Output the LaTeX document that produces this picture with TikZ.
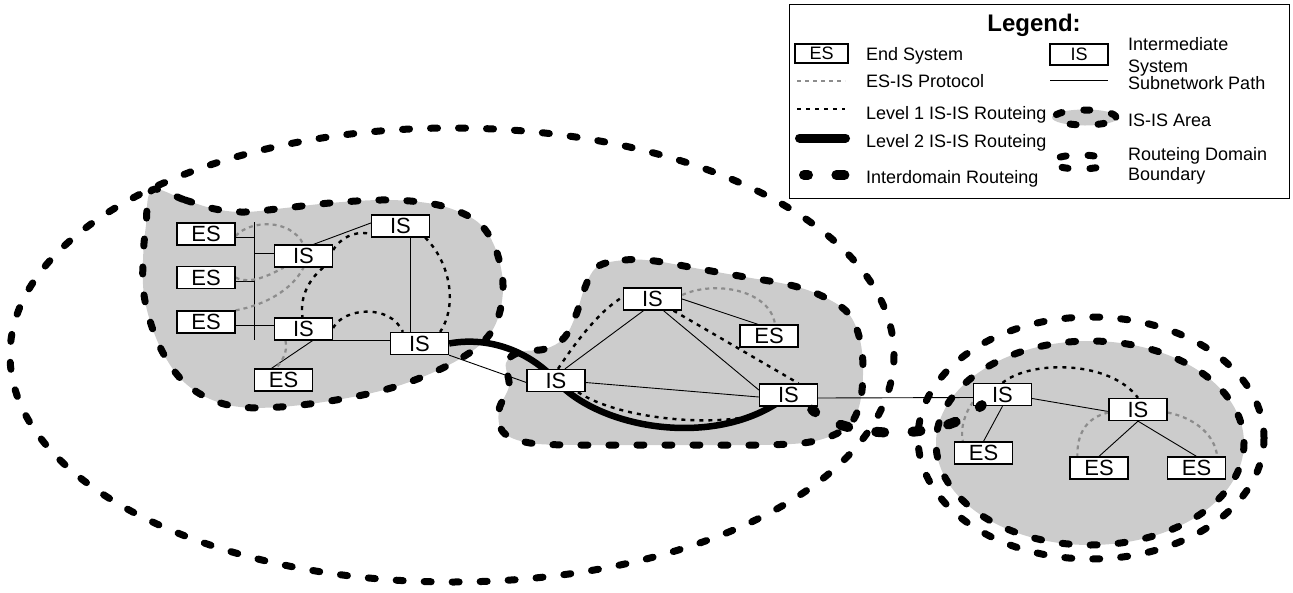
\documentclass[tikz,border=0pt]{standalone}
\usepackage{fontspec}
\setmainfont{Liberation Sans}
\usetikzlibrary{calc}
\pgfdeclarelayer{bg}
\pgfdeclarelayer{lines}
\pgfdeclarelayer{top}
\pgfsetlayers{bg,lines,main,top}
\definecolor{areagray}{HTML}{CCCCCC}
\definecolor{esisgray}{HTML}{8C8C8C}
\begin{document}
\begin{tikzpicture}[x=1pt,y=-1pt,
  box/.style={draw, fill=white, line width=1.3pt, minimum width=58pt, minimum height=22pt, inner sep=0pt, font=\fontsize{22}{22}\selectfont},
  lbox/.style={draw, fill=white, line width=1.2pt, inner sep=0pt, font=\fontsize{18}{18}\selectfont},
  subnet/.style={line width=0.9pt},
  esis/.style={draw=esisgray, line width=2.2pt, dash pattern=on 4pt off 4pt},
  lone/.style={line width=2.4pt, dash pattern=on 4pt off 5pt},
  ltwo/.style={line width=6.5pt},
  inter/.style={line width=10pt, line cap=round, dash pattern=on 8pt off 28.4pt, dash phase=4pt},
  border/.style={line width=7pt, line cap=round, dash pattern=on 7pt off 21pt},
  symborder/.style={line width=7pt, line cap=round, dash pattern=on 6pt off 22pt, dash phase=14pt},
  ltext/.style={anchor=base west, inner sep=0pt, font=\fontsize{18}{18}\selectfont},
]
\useasboundingbox (0,0) rectangle (1293,592);

% ---------- nodes ----------
\node[box] (es1) at (206,234) {ES};
\node[box] (es2) at (206,277.5) {ES};
\node[box] (es3) at (206,322) {ES};
\node[box] (isa) at (303.5,256) {IS};
\node[box] (isb) at (303.5,329) {IS};
\node[box] (isc) at (400.5,226) {IS};
\node[box] (isd) at (419.5,343.5) {IS};
\node[box] (es4) at (283.5,380) {ES};
\node[box] (ise) at (556,380.5) {IS};
\node[box] (isg) at (652.5,299) {IS};
\node[box] (esm) at (769,336) {ES};
\node[box] (isf) at (788.5,395) {IS};
\node[box] (ish) at (1002.5,394.5) {IS};
\node[box] (isi) at (1138,409.5) {IS};
\node[box] (esr1) at (983.5,453) {ES};
\node[box] (esr2) at (1099,468) {ES};
\node[box] (esr3) at (1196.5,468) {ES};

% ---------- areas ----------
\begin{pgfonlayer}{bg}
\def\leftblob{(152,190) (185,200) (215,209) (245,212) (285,208) (330,203) (380,200) (420,202) (452,209) (480,224) (496,250) (503,285) (498,318) (484,341) (458,360) (420,378) (380,391) (330,401) (280,407) (240,407) (210,399) (185,383) (167,360) (153,330) (144,295) (143,260) (146,225)}
\fill[areagray] plot[smooth cycle, tension=0.6] coordinates {\leftblob};
\draw[border] plot[smooth cycle, tension=0.6] coordinates {\leftblob};
\def\midblob{(597,267) (625,260) (655,261) (700,269) (745,277) (790,285) (822,296) (848,313) (860,340) (863,375) (858,410) (843,430) (810,442) (760,445) (700,445) (640,445) (580,445) (530,443) (503,432) (499,410) (509,386) (506,363) (520,352) (545,349) (564,338) (576,315) (584,290)}
\fill[areagray] plot[smooth cycle, tension=0.6] coordinates {\midblob};
\draw[border] plot[smooth cycle, tension=0.6] coordinates {\midblob};
\fill[areagray] (1090,443) ellipse [x radius=154, y radius=102];
\draw[border] (1090,443) ellipse [x radius=154, y radius=102];
\draw[border] (1091,438) ellipse [x radius=173, y radius=121];
\draw[border] (452,355) ellipse [x radius=442, y radius=227];
\end{pgfonlayer}

% ---------- connectors ----------
\begin{pgfonlayer}{lines}
% left area subnetwork
\coordinate (busT) at (254,222);
\coordinate (busB) at (254,340);
\draw[subnet] (busT) -- (busB);
\coordinate (e1) at ($(es1.east)+(0,3)$);
\coordinate (e2) at ($(es2.east)+(0,4)$);
\coordinate (e3) at ($(es3.east)+(0,3)$);
\coordinate (ia) at ($(isa.west)+(0,-3)$);
\coordinate (ib) at ($(isb.west)+(0,-4)$);
\draw[subnet] (e1) -- (e1 -| busT);
\draw[subnet] (e2) -- (e2 -| busT);
\draw[subnet] (e3) -- (e3 -| busT);
\draw[subnet] (ia) -- (ia -| busT);
\draw[subnet] (ib) -- (ib -| busT);
\draw[subnet] ($(isa.north)+(10,0)$) -- ($(isc.west)+(0,-3)$);
\draw[subnet] ($(isc.south)+(9.5,0)$) -- ($(isd.north)+(-9.5,0)$);
\draw[subnet] (isb.south east) -- (isb.south east -| isd.west);
\draw[subnet] ($(isb.south)+(9,0)$) -- ($(es4.north)+(-12,0)$);
\draw[subnet] (isd.south east) -- ($(ise.west)+(0,2)$);
% middle area subnetwork
\draw[subnet] ($(ise.north)+(9,0)$) -- ($(isg.south)+(-9,0)$);
\draw[subnet] ($(isg.south)+(11,0)$) -- ($(isf.west)+(0,-5)$);
\draw[subnet] (isg.east) -- ($(esm.north)+(-11,0)$);
\draw[subnet] ($(ise.east)+(0,2)$) -- ($(isf.west)+(0,2)$);
\draw[subnet] ($(isf.east)+(0,3)$) -- ($(ish.west)+(0,3)$);
% right area subnetwork
\draw[subnet] (ish.south) -- (esr1.north);
\draw[subnet] ($(ish.east)+(0,4)$) -- ($(isi.west)+(0,2)$);
\draw[subnet] (isi.south) -- (esr2.north);
\draw[subnet] (isi.south) -- (esr3.north);

% ES-IS protocol
\draw[esis] ($(es1.east)+(0,2)$) .. controls (250,220) and (290,218) .. (isa.north);
\draw[esis] (es2.east) .. controls (250,285) and (270,275) .. ($(isa.south)+(-20,0)$);
\draw[esis] (es3.north east) .. controls (265,305) and (292,290) .. (isa.south);
\draw[esis] ($(isb.south)+(-18,0)$) .. controls (288,352) and (282,362) .. ($(es4.north)+(-8,0)$);
\draw[esis] ($(isg.east)+(0,-4)$) .. controls (715,280) and (770,290) .. ($(esm.north)+(6,0)$);
\draw[esis] ($(ish.south west)+(0,-4)$) .. controls (965,413) and (960,428) .. ($(esr1.north west)+(9,0)$);
\draw[esis] ($(isi.west)+(0,3)$) .. controls (1085,418) and (1077,435) .. ($(esr2.north west)+(8,0)$);
\draw[esis] ($(isi.east)+(0,3)$) .. controls (1195,418) and (1215,435) .. ($(esr3.north east)+(-9,0)$);

% Level 1 IS-IS routeing
\draw[lone] ($(isa.east)+(0,-6)$) .. controls (343,234) and (363,228) .. ($(isc.south west)+(9,0)$);
\draw[lone] ($(isa.south east)+(-10,0)$) .. controls (306,282) and (300,300) .. ($(isb.north)+(-1,0)$);
\draw[lone] ($(isb.east)+(0,-1)$) .. controls (343,308) and (390,303) .. ($(isd.north west)+(13,0)$);
\draw[lone] ($(isc.south east)+(-5,0)$) .. controls (450,262) and (458,305) .. ($(isd.north east)+(-9,0)$);
\draw[lone] ($(ise.north)+(2,0)$) .. controls (575,343) and (600,310) .. ($(isg.west)+(0,-2)$);
\draw[lone] ($(isg.south)+(21,0)$) -- ($(isf.north)+(10,0)$);
\draw[lone] ($(ise.south)+(22,0)$) .. controls (620,420) and (720,428) .. ($(isf.south west)+(4,6)$);
\draw[lone] (ish.north) .. controls (1030,360) and (1110,360) .. (isi.north);

% Level 2 IS-IS routeing
\draw[ltwo] (isd.east) .. controls (490,336) and (530,352) .. (ise.center)
  .. controls (600,430) and (720,450) .. (isf.center);
\end{pgfonlayer}

% Interdomain routeing
\begin{pgfonlayer}{top}
\draw[inter] ($(isf.south east)+(-6,3)$) .. controls (846,440) and (945,442) .. ($(ish.south west)+(9,-1)$);
\end{pgfonlayer}

% ---------- legend ----------
\node[draw, fill=white, line width=1.3pt, minimum width=500pt, minimum height=194pt, inner sep=0pt, anchor=north west] (legend) at (789,4) {};
\node[anchor=base, inner sep=0pt, font=\bfseries\fontsize{24}{24}\selectfont] (ltitle) at (1034,31) {Legend:};
\node[lbox, minimum width=53pt, minimum height=19pt] (les) at (821.5,53.5) {ES};
\node[ltext] (tes) at (866,60) {End System};
\coordinate (pa1) at (797,81); \coordinate (pa2) at (845,81);
\draw[esis] (pa1) -- (pa2);
\node[ltext] (tesis) at (866,87) {ES-IS Protocol};
\coordinate (pb1) at (797,109); \coordinate (pb2) at (845,109);
\draw[lone] (pb1) -- (pb2);
\node[ltext] (tl1) at (866,119) {Level 1 IS-IS Routeing};
\coordinate (pc1) at (799.5,138); \coordinate (pc2) at (845.5,138);
\draw[line width=9pt, line cap=round] (pc1) -- (pc2);
\node[ltext] (tl2) at (866,147) {Level 2 IS-IS Routeing};
\coordinate (pd1) at (804,175); \coordinate (pd2) at (845,175);
\draw[inter] (pd1) -- (pd2);
\node[ltext] (tid) at (866,183) {Interdomain Routeing};
\node[lbox, minimum width=58pt, minimum height=21pt] (lis) at (1079,54.5) {IS};
\node[ltext] (tis1) at (1128,50) {Intermediate};
\node[ltext] (tis2) at (1128,72) {System};
\coordinate (pe1) at (1050,80); \coordinate (pe2) at (1108,80);
\draw[subnet] (pe1) -- (pe2);
\node[ltext] (tsp) at (1128,89) {Subnetwork Path};
\coordinate (parea) at (1085,117.5);
\fill[areagray] (parea) ellipse [x radius=33, y radius=8];
\draw[symborder] (parea) ellipse [x radius=31, y radius=7.5];
\node[ltext] (tarea) at (1128,126) {IS-IS Area};
\coordinate (pdom) at (1080,162);
\draw[symborder] (pdom) ellipse [x radius=28, y radius=7];
\node[ltext] (tdom1) at (1128,160) {Routeing Domain};
\node[ltext] (tdom2) at (1128,180) {Boundary};
\end{tikzpicture}
\end{document}
